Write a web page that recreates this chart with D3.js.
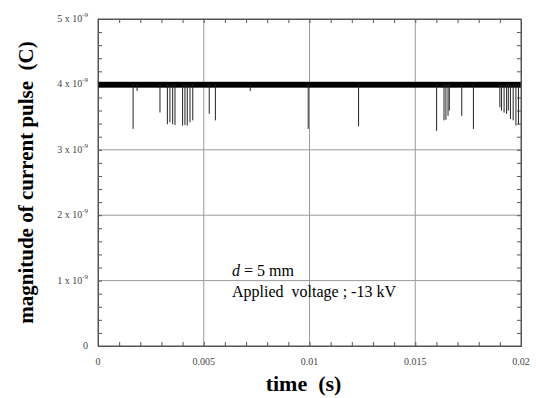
<!DOCTYPE html>
<html>
<head>
<meta charset="utf-8">
<script src="https://cdn.jsdelivr.net/npm/d3@7"></script>
<style>
  body { margin: 0; background: #fff; }
  text { font-family: "Liberation Serif", "Times New Roman", serif; white-space: pre; }
</style>
</head>
<body>
<div id="chart"></div>
<script>
// pulse times (s) and their magnitudes (C)
const pulseTimes = [0.00166, 0.00185, 0.00293, 0.00328, 0.0034, 0.00353, 0.00364, 0.004, 0.00411, 0.00422,
  0.00435, 0.00448, 0.00526, 0.00555, 0.0072, 0.00994, 0.01232, 0.01601, 0.01636, 0.01645, 0.01655,
  0.01661, 0.0172, 0.01775, 0.019, 0.01908, 0.0192, 0.01932, 0.0194, 0.0195, 0.01963, 0.01976, 0.01988];
const pulseValues = [3.32e-9, 3.9e-9, 3.57e-9, 3.39e-9, 3.42e-9, 3.39e-9, 3.38e-9, 3.37e-9, 3.38e-9, 3.37e-9,
  3.42e-9, 3.45e-9, 3.55e-9, 3.45e-9, 3.9e-9, 3.32e-9, 3.36e-9, 3.29e-9, 3.45e-9, 3.46e-9, 3.52e-9,
  3.6e-9, 3.52e-9, 3.32e-9, 3.65e-9, 3.6e-9, 3.57e-9, 3.55e-9, 3.6e-9, 3.47e-9, 3.45e-9, 3.37e-9, 3.39e-9];
// dense pulse band around the steady level
const bandLow = 3.95e-9;
const bandHigh = 4.04e-9;
const baseLevel = 4e-9;

const xTicks = [0, 0.005, 0.01, 0.015, 0.02];
const xTickLabels = ["0", "0.005", "0.01", "0.015", "0.02"];
const yTicks = [0, 1e-9, 2e-9, 3e-9, 4e-9, 5e-9];
const yTickMant = ["0", "1", "2", "3", "4", "5"];

const width = 536, height = 398;
const margin = { top: 19, right: 15, bottom: 52, left: 98 };
const w = width - margin.left - margin.right;
const h = height - margin.top - margin.bottom;

const svg = d3.select("#chart").append("svg")
  .attr("width", width)
  .attr("height", height);

const x = d3.scaleLinear().domain([0, 0.02]).range([0, w]);
const y = d3.scaleLinear().domain([0, 5e-9]).range([h, 0]);

const g = svg.append("g").attr("transform", "translate(" + margin.left + "," + margin.top + ")");

// grid
g.selectAll(".vgrid").data(xTicks.slice(1, -1)).enter().append("line")
  .attr("x1", d => x(d)).attr("x2", d => x(d))
  .attr("y1", 0).attr("y2", h)
  .attr("stroke", "#9a9a9a").attr("stroke-width", 1);
g.selectAll(".hgrid").data(yTicks.slice(1, -1)).enter().append("line")
  .attr("x1", 0).attr("x2", w)
  .attr("y1", d => y(d)).attr("y2", d => y(d))
  .attr("stroke", "#9a9a9a").attr("stroke-width", 1);

// inward ticks on all four sides
const xMinor = d3.range(0, 21).map(i => i * 0.001);
const yMinor = d3.range(0, 26).map(i => i * 0.2e-9);
const axisCol = "#555";
g.append("g").attr("transform", "translate(0," + h + ")")
  .call(d3.axisBottom(x).tickValues(xMinor).tickSize(-4).tickFormat(""));
g.append("g")
  .call(d3.axisTop(x).tickValues(xMinor).tickSize(-4).tickFormat(""));
g.append("g")
  .call(d3.axisLeft(y).tickValues(yMinor).tickSize(-4).tickFormat(""));
g.append("g").attr("transform", "translate(" + w + ",0)")
  .call(d3.axisRight(y).tickValues(yMinor).tickSize(-4).tickFormat(""));
g.selectAll(".domain").attr("stroke", axisCol);
g.selectAll(".tick line").attr("stroke", axisCol);

// data: band and pulses
g.append("rect")
  .attr("x", x(0)).attr("width", x(0.02) - x(0))
  .attr("y", y(bandHigh)).attr("height", y(bandLow) - y(bandHigh))
  .attr("fill", "#000");
g.selectAll(".pulse").data(pulseTimes).enter().append("line")
  .attr("x1", d => x(d)).attr("x2", d => x(d))
  .attr("y1", y(baseLevel)).attr("y2", (d, i) => y(pulseValues[i]))
  .attr("stroke", "#222").attr("stroke-width", 1);

// frame
g.append("rect").attr("width", w).attr("height", h)
  .attr("fill", "none").attr("stroke", axisCol).attr("stroke-width", 1);

// tick labels
g.selectAll(".xl").data(xTicks).enter().append("text")
  .attr("x", d => x(d)).attr("y", h + 19)
  .attr("text-anchor", "middle").attr("font-size", 10).attr("fill", "#444")
  .text((d, i) => xTickLabels[i]);
const yl = g.selectAll(".yl").data(yTicks).enter().append("text")
  .attr("x", -10).attr("y", d => y(d) + 3)
  .attr("text-anchor", "end").attr("font-size", 10).attr("fill", "#444");
yl.each(function (d, i) {
  const t = d3.select(this);
  if (d === 0) { t.text("0"); return; }
  t.append("tspan").text(yTickMant[i] + " x 10");
  t.append("tspan").attr("dy", -5).attr("font-size", 7).text("-9");
});

// axis titles
svg.append("text")
  .attr("x", margin.left + w / 2 - 6).attr("y", 391)
  .attr("text-anchor", "middle").attr("font-size", 22).attr("font-weight", "bold")
  .text("time  (s)");
svg.append("text")
  .attr("transform", "translate(33," + (margin.top + h / 2) + ") rotate(-90)")
  .attr("text-anchor", "middle").attr("font-size", 21).attr("font-weight", "bold")
  .text("magnitude of current pulse  (C)");

// annotation
const ann = svg.append("text").attr("x", 232).attr("y", 276).attr("font-size", 16);
ann.append("tspan").attr("font-style", "italic").text("d");
ann.append("tspan").text(" = 5 mm");
svg.append("text").attr("x", 232).attr("y", 297).attr("font-size", 16)
  .text("Applied  voltage ; -13 kV");
</script>
</body>
</html>
